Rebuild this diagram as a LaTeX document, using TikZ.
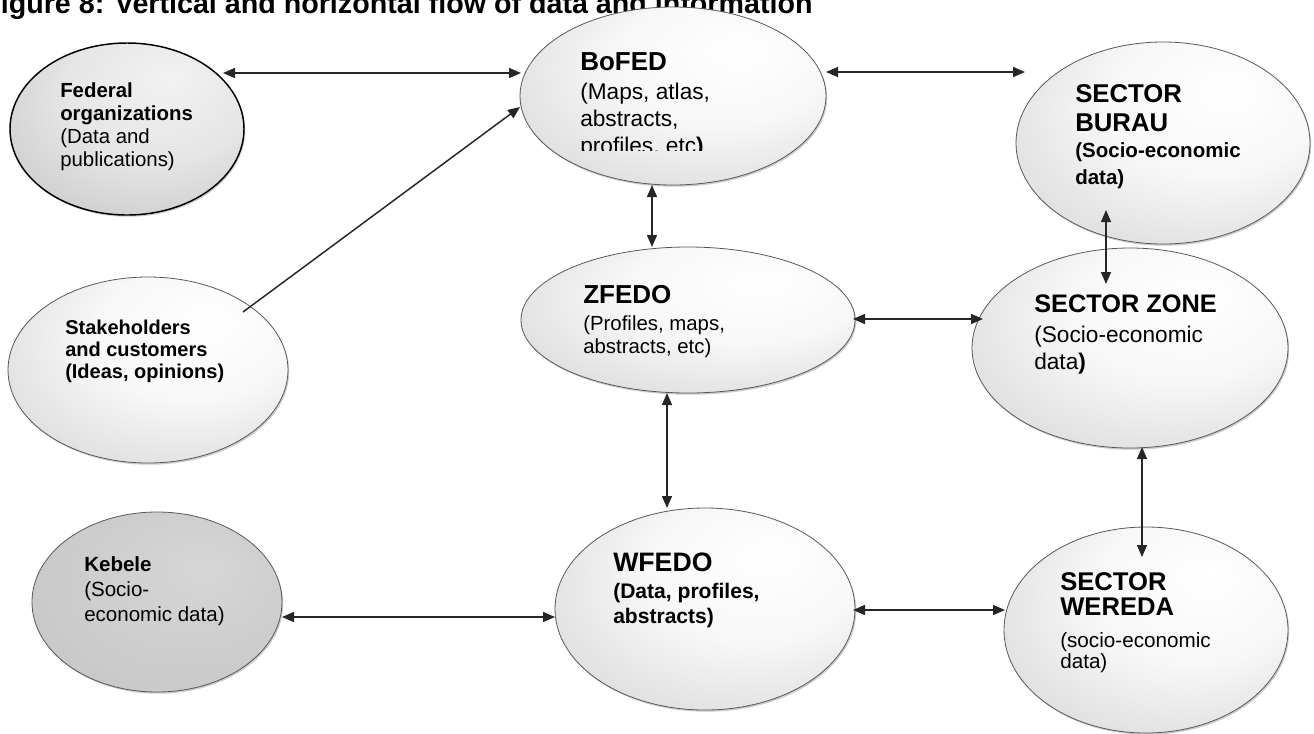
\documentclass[tikz,border=0pt]{standalone}
\usepackage{fontspec}
\setmainfont{Liberation Sans}
\usetikzlibrary{shapes.geometric,arrows.meta,calc,shadows}
\pgfdeclareradialshading{lightball}{\pgfpoint{12bp}{14bp}}{color(0bp)=(white); color(18bp)=(gray!6); color(40bp)=(gray!32); color(58bp)=(gray!60)}
\pgfdeclareradialshading{fedball}{\pgfpoint{10bp}{16bp}}{color(0bp)=(gray!10); color(20bp)=(gray!20); color(45bp)=(gray!50); color(60bp)=(gray!72)}
\pgfdeclareradialshading{kebball}{\pgfpoint{10bp}{10bp}}{color(0bp)=(gray!32); color(30bp)=(gray!42); color(55bp)=(gray!62)}
\newcommand{\fsz}[2]{\fontsize{#1pt}{#2pt}\selectfont}
\tikzset{
  ell/.style={ellipse, inner sep=0pt, draw=black!65, line width=0.6pt, shading=lightball,
    drop shadow={shadow xshift=0.9pt, shadow yshift=-1.3pt, fill=black!40}},
  sz/.style 2 args={minimum width=#1*1.5pt, minimum height=#2*1.5pt},
  tt/.style={anchor=north west, inner sep=0pt, align=left},
  arr/.style={line width=1.1pt, draw=black!85, >={Triangle[length=9pt,width=7.5pt]}}
}
\begin{document}
\begin{tikzpicture}[x=0.75pt, y=-0.75pt]
\clip (0,0) rectangle (1314,733);
\fill[white] (0,0) rectangle (1314,733);
\useasboundingbox (0,0) rectangle (1314,733);

% title (cut at top, as in the reference)
\node[anchor=base west, inner sep=0pt, font=\fsz{21.5}{24}\bfseries] (title) at (-17,13) {Figure 8: Vertical and horizontal flow of data and information};

% ellipses
\node[ell, sz={117}{86}, shading=fedball, draw=black, line width=1.1pt] (fed) at (127,129) {};
\node[ell, sz={153}{89}] (bofed) at (673,96) {};
\node[ell, sz={147}{101}] (burau) at (1163,143) {};
\node[ell, sz={140}{93}] (stake) at (148,370) {};
\node[ell, sz={167}{73}] (zfedo) at (688,320) {};
\node[ell, sz={158}{100}] (zone) at (1130,348) {};
\node[ell, sz={125}{90}, shading=kebball] (keb) at (157,602) {};
\node[ell, sz={150}{101}] (wfedo) at (705,609) {};
\node[ell, sz={142}{103}] (wereda) at (1146,630) {};

% texts
\node[tt, font=\fsz{15.3}{17.3}] (fedT) at (60,82) {\textbf{Federal}\\\textbf{organizations}\\(Data and\\publications)};

\node[tt, font=\fsz{19.5}{22}\bfseries] (bofedT) at (580,52) {BoFED};
\begin{scope}
\clip (560,60) rectangle (820,150);
\node[tt, font=\fsz{17}{20.25}] (bofedB) at (580,83) {(Maps, atlas,\\abstracts,\\profiles, etc\textbf{)}};
\end{scope}

\node[tt, font=\fsz{19.3}{21.75}\bfseries] (burauT) at (1075,84) {SECTOR\\BURAU};
\node[tt, font=\fsz{15.4}{20.25}\bfseries] (burauB) at (1075,142) {(Socio-economic\\data)};

\node[tt, font=\fsz{15}{16.5}\bfseries] (stakeT) at (65,320) {Stakeholders\\and customers\\(Ideas, opinions)};

\node[tt, font=\fsz{19.5}{22}\bfseries] (zfedoT) at (583,285) {ZFEDO};
\node[tt, font=\fsz{15.3}{17.25}] (zfedoB) at (583,315) {(Profiles, maps,\\abstracts, etc)};

\node[tt, font=\fsz{19}{22}\bfseries] (zoneT) at (1034,295) {SECTOR ZONE};
\node[tt, font=\fsz{17}{20.25}] (zoneB) at (1034,326) {(Socio-economic\\data\textbf{)}};

\node[tt, font=\fsz{15.4}{18.75}] (kebT) at (84,556) {\textbf{Kebele}\\(Socio-\\economic data)};

\node[tt, font=\fsz{20}{22}\bfseries] (wfedoT) at (613,553) {WFEDO};
\node[tt, font=\fsz{15.8}{18.75}\bfseries] (wfedoB) at (613,583) {(Data, profiles,\\abstracts)};

\node[tt, font=\fsz{19.2}{18.75}\bfseries] (weredaT) at (1060,572) {SECTOR\\WEREDA};
\node[tt, font=\fsz{15.5}{15.75}] (weredaB) at (1060,632) {(socio-economic\\data)};

% connectors
\draw[arr, <->] ($(fed)+(96,-56)$) -- ($(bofed)+(-152,-23)$);
\draw[arr, ->] ($(stake)+(95,-58)$) -- ($(bofed)+(-153,11)$);
\draw[arr, <->] ($(bofed)+(153,-24)$) -- ($(burau)+(-138,-71)$);
\draw[arr, <->] ($(bofed)+(-21,89)$) -- ($(zfedo)+(-36,-73)$);
\draw[arr, <->] ($(burau)+(-57,67)$) -- ($(zone)+(-24,-64)$);
\draw[arr, <->] ($(zfedo)+(165,-1)$) -- ($(zone)+(-147,-29)$);
\draw[arr, <->] ($(zfedo)+(-21,73)$) -- ($(wfedo)+(-38,-101)$);
\draw[arr, <->] ($(zone)+(12,99)$) -- ($(wereda)+(-4,-73)$);
\draw[arr, <->] ($(keb)+(125,15)$) -- ($(wfedo)+(-150,8)$);
\draw[arr, <->] ($(wfedo)+(148,1)$) -- ($(wereda)+(-141,-20)$);
\end{tikzpicture}
\end{document}
